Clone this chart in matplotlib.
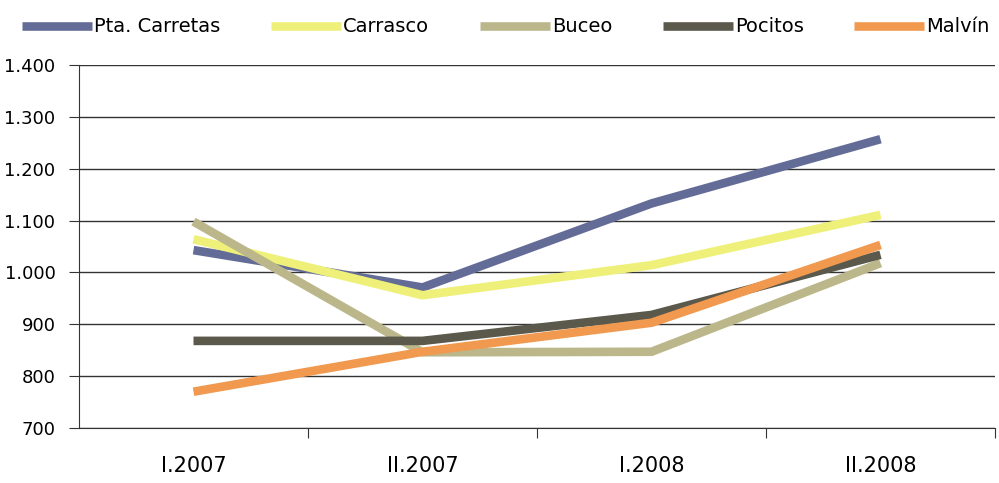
import matplotlib
matplotlib.use("Agg")
import matplotlib.pyplot as plt
from matplotlib.ticker import FuncFormatter, MultipleLocator

periods = ["I.2007", "II.2007", "I.2008", "II.2008"]
barrios = ["Pta. Carretas", "Carrasco", "Buceo", "Pocitos", "Malvín"]
pta_carretas = [1043, 971, 1133, 1257]
carrasco = [1064, 956, 1014, 1111]
buceo = [1098, 846, 847, 1018]
pocitos = [868, 868, 918, 1034]
malvin = [770, 847, 903, 1053]
series = [pta_carretas, carrasco, buceo, pocitos, malvin]
colores = ["#636c96", "#eef07a", "#bbb78b", "#5a594c", "#f0994f"]

plt.rcParams["font.family"] = ["DejaVu Sans"]

fig = plt.figure(figsize=(9.99, 4.83), dpi=100)
ax = fig.add_axes([79 / 999, 55 / 483, 916 / 999, 363 / 483])

x = [i + 0.5 for i in range(len(periods))]
for nombre, vals, c in zip(barrios, series, colores):
    ax.plot(x, vals, color=c, linewidth=6.2, solid_capstyle="butt",
            solid_joinstyle="miter", label=nombre)

ax.set_xlim(0, 4)
ax.set_ylim(700, 1400)
ax.yaxis.set_major_locator(MultipleLocator(100))
ax.yaxis.set_major_formatter(FuncFormatter(lambda v, p: f"{int(v):,}".replace(",", ".")))
ax.grid(axis="y", color="#333333", linewidth=1.0)
ax.set_axisbelow(True)

# boundaries between periods get the ticks, labels sit at the centres
ax.set_xticks([1, 2, 3, 4])
ax.set_xticklabels([])
ax.set_xticks(x, minor=True)
ax.set_xticklabels(periods, minor=True, fontsize=15)
ax.tick_params(axis="x", which="major", length=7, direction="out", color="#333333")
ax.tick_params(axis="x", which="minor", length=0, pad=20)
ax.tick_params(axis="y", length=7, direction="out", labelsize=13, pad=10, color="#333333")

for s in ["top", "right"]:
    ax.spines[s].set_visible(False)
ax.spines["left"].set_color("#333333")
ax.spines["bottom"].set_color("#333333")

fig.legend(loc="upper left", bbox_to_anchor=(0.005, 1.0), ncol=5, frameon=False,
           fontsize=14, handlelength=3.6, handletextpad=0.1, columnspacing=2.6)

fig.savefig("out.png", dpi=100)
